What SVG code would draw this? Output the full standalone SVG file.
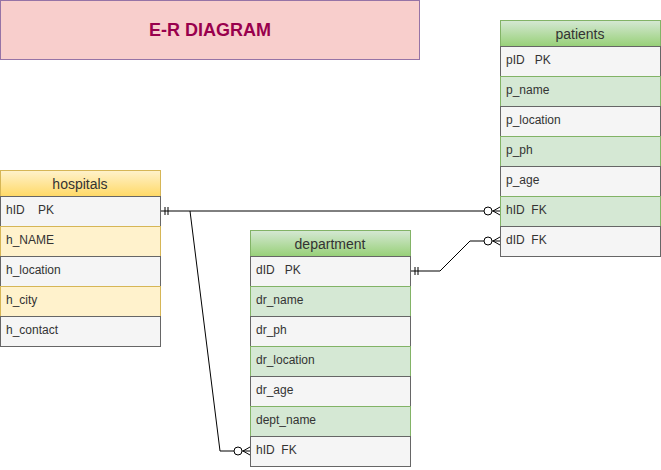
<svg xmlns="http://www.w3.org/2000/svg" width="661" height="470" viewBox="0 0 661 470">
<defs>
<linearGradient id="gy" x1="0" y1="0" x2="0" y2="1"><stop offset="0" stop-color="#fff2cc"/><stop offset="1" stop-color="#ffd966"/></linearGradient>
<linearGradient id="gg" x1="0" y1="0" x2="0" y2="1"><stop offset="0" stop-color="#d5e8d4"/><stop offset="1" stop-color="#97d077"/></linearGradient>
</defs>
<style>
text{font-family:"Liberation Sans",Arial,sans-serif;white-space:pre}
.row{font-size:12px;fill:#333333}
.hd{font-size:14px;fill:#333333;text-anchor:middle}
.gr{fill:#f5f5f5;stroke:#666666}
.ye{fill:#fff2cc;stroke:#d6b656}
.gn{fill:#d5e8d4;stroke:#82b366}
.hy{fill:url(#gy);stroke:#d6b656}
.hg{fill:url(#gg);stroke:#82b366}
.ln{fill:none;stroke:#000;stroke-width:1}
.mk{fill:#fff;stroke:#000;stroke-width:1}
</style>
<g id="title">
<rect x="0.5" y="0.5" width="419" height="59" fill="#f8cecc" stroke="#9673a6"/>
<text x="210" y="36" text-anchor="middle" font-size="18" font-weight="bold" fill="#99004d" style="font-family:'Liberation Sans',Arial,sans-serif">E-R DIAGRAM</text>
</g>
<g id="hospitals">
<rect class="hy" x="0.5" y="170.5" width="160" height="26"/>
<text class="hd" x="80" y="188.5">hospitals</text>
<rect class="gr" x="0.5" y="196.5" width="160" height="30"/><text class="row" x="6" y="213.5">hID    PK</text>
<rect class="ye" x="0.5" y="226.5" width="160" height="30"/><text class="row" x="6" y="243.5">h_NAME</text>
<rect class="gr" x="0.5" y="256.5" width="160" height="30"/><text class="row" x="6" y="273.5">h_location</text>
<rect class="ye" x="0.5" y="286.5" width="160" height="30"/><text class="row" x="6" y="303.5">h_city</text>
<rect class="gr" x="0.5" y="316.5" width="160" height="30"/><text class="row" x="6" y="333.5">h_contact</text>
</g>
<g id="department">
<rect class="hg" x="250.5" y="230.5" width="160" height="26"/>
<text class="hd" x="330" y="248.5">department</text>
<rect class="gr" x="250.5" y="256.5" width="160" height="30"/><text class="row" x="256" y="273.5">dID   PK</text>
<rect class="gn" x="250.5" y="286.5" width="160" height="30"/><text class="row" x="256" y="303.5">dr_name</text>
<rect class="gr" x="250.5" y="316.5" width="160" height="30"/><text class="row" x="256" y="333.5">dr_ph</text>
<rect class="gn" x="250.5" y="346.5" width="160" height="30"/><text class="row" x="256" y="363.5">dr_location</text>
<rect class="gr" x="250.5" y="376.5" width="160" height="30"/><text class="row" x="256" y="393.5">dr_age</text>
<rect class="gn" x="250.5" y="406.5" width="160" height="30"/><text class="row" x="256" y="423.5">dept_name</text>
<rect class="gr" x="250.5" y="436.5" width="160" height="30"/><text class="row" x="256" y="453.5">hID  FK</text>
</g>
<g id="patients">
<rect class="hg" x="500.5" y="20.5" width="160" height="26"/>
<text class="hd" x="580" y="38.5">patients</text>
<rect class="gr" x="500.5" y="46.5" width="160" height="30"/><text class="row" x="506" y="63.5">pID   PK</text>
<rect class="gn" x="500.5" y="76.5" width="160" height="30"/><text class="row" x="506" y="93.5">p_name</text>
<rect class="gr" x="500.5" y="106.5" width="160" height="30"/><text class="row" x="506" y="123.5">p_location</text>
<rect class="gn" x="500.5" y="136.5" width="160" height="30"/><text class="row" x="506" y="153.5">p_ph</text>
<rect class="gr" x="500.5" y="166.5" width="160" height="30"/><text class="row" x="506" y="183.5">p_age</text>
<rect class="gn" x="500.5" y="196.5" width="160" height="30"/><text class="row" x="506" y="213.5">hID  FK</text>
<rect class="gr" x="500.5" y="226.5" width="160" height="30"/><text class="row" x="506" y="243.5">dID  FK</text>
</g>
<g id="connectors">
<path class="ln" d="M161,211 H484"/>
<path class="ln" d="M165,207 V215 M168,207 V215"/>
<circle class="mk" cx="488" cy="211" r="4"/>
<path class="ln" d="M492,211 H500 M493,211 L500,207 M493,211 L500,215"/>
<path class="ln" d="M190,211 L220,451 H234"/>
<circle class="mk" cx="238" cy="451" r="4"/>
<path class="ln" d="M242,451 H250 M243,451 L250,447 M243,451 L250,455"/>
<path class="ln" d="M411,271 H440 L470,241 H484"/>
<path class="ln" d="M415,267 V275 M418,267 V275"/>
<circle class="mk" cx="488" cy="241" r="4"/>
<path class="ln" d="M492,241 H500 M493,241 L500,237 M493,241 L500,245"/>
</g>
</svg>
